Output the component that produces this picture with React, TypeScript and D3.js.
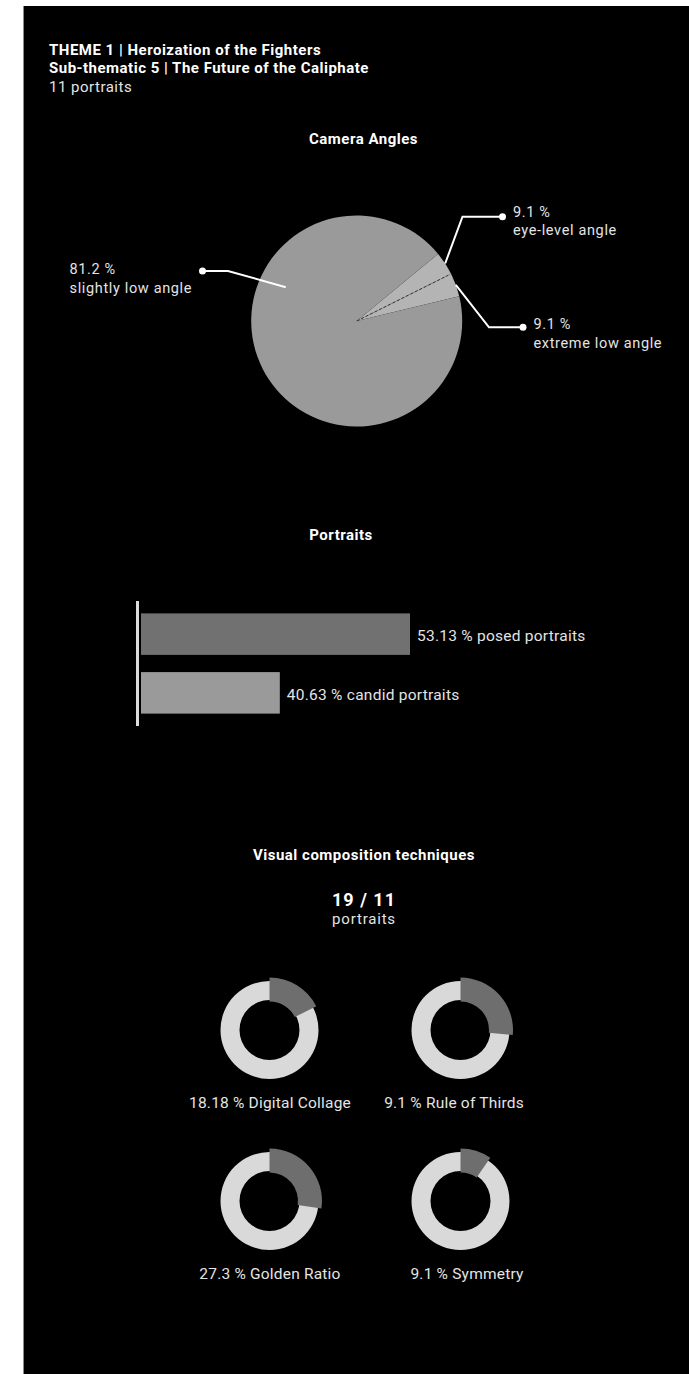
import React from "react";
import * as d3 from "d3";

const W = 689;
const H = 1374;

// ---------- Header ----------
const titleLines = [
  "THEME 1 | Heroization of the Fighters",
  "Sub-thematic 5 | The Future of the Caliphate",
];
const subtitle = "11 portraits";

// ---------- Camera angles (pie) ----------
const angleNames = ["eye-level angle", "extreme low angle", "slightly low angle"];
const angleValueLabels = ["9.1 %", "9.1 %", "81.2 %"];
// share of the disc as drawn in the picture
const angleShares = [3.6, 3.6, 92.8];

// ---------- Portraits (bars) ----------
const portraitCats = ["posed portraits", "candid portraits"];
const portraitValues = [53.13, 40.63];

// ---------- Visual composition techniques ----------
const techTotal = "19 / 11";
const techNames = ["Digital Collage", "Rule of Thirds", "Golden Ratio", "Symmetry"];
const techValueLabels = ["18.18 %", "9.1 %", "27.3 %", "9.1 %"];
// share of the ring as drawn in the picture
const techShares = [17.5, 26.5, 27.3, 9.6];

const FONT = "Roboto, 'DejaVu Sans', sans-serif";
const TXT = "#e4e4e4";

export default function App() {
  const deg = Math.PI / 180;

  // pie
  const pieCx = 356.7;
  const pieCy = 321;
  const pieR = 105.5;
  const pieGen = d3
    .pie<number>()
    .sort(null)
    .value((d) => d)
    .startAngle(50.5 * deg)
    .endAngle(50.5 * deg + 2 * Math.PI);
  const slices = pieGen(angleShares);
  const arcGen = d3.arc<d3.PieArcDatum<number>>().innerRadius(0).outerRadius(pieR);
  const pieColors = ["#b4b4b4", "#b4b4b4", "#9a9a9a"];
  const polar = (a: number, r: number): [number, number] => [
    pieCx + r * Math.sin(a),
    pieCy - r * Math.cos(a),
  ];
  const mid = (s: d3.PieArcDatum<number>) => (s.startAngle + s.endAngle) / 2;

  // leader lines
  const eyeStart = polar(mid(slices[0]), pieR);
  const eyeElbow: [number, number] = [462.5, 216.7];
  const eyeDot: [number, number] = [502.5, 216.7];
  const extStart = polar(mid(slices[1]), pieR);
  const extElbow: [number, number] = [489, 327.3];
  const extDot: [number, number] = [523, 327.3];
  const lowStart = polar(295.5 * deg, pieR * 0.745);
  const lowElbow: [number, number] = [228, 271];
  const lowDot: [number, number] = [202.5, 271];
  const line = d3.line();
  const dashEnd = polar(slices[0].endAngle, pieR * 0.97);

  // bars
  const yBand = d3
    .scaleBand<string>()
    .domain(portraitCats)
    .range([601, 726])
    .paddingInner(0.293)
    .paddingOuter(0.211);
  const xBar = d3.scaleLinear().domain([27.3, 53.13]).range([141, 410]);
  const barColors = ["#717171", "#9a9a9a"];

  // donuts
  const colX = d3.scalePoint<number>().domain([0, 1]).range([269.5, 460.5]);
  const rowY = d3.scalePoint<number>().domain([0, 1]).range([1030, 1201]);
  const ringArc = d3.arc<any>().innerRadius(30).outerRadius(49);
  const segArc = d3.arc<any>().innerRadius(28.5).outerRadius(52.5);
  const labelX = [270, 454, 270, 467];

  const head = { fill: "#ffffff", fontWeight: 700, fontSize: 15, letterSpacing: 0.5 } as const;

  return (
    <svg
      width={W}
      height={H}
      style={{ position: "absolute", left: 0, top: 0, display: "block" }}
      fontFamily={FONT}
    >
      <rect x={0} y={0} width={W} height={H} fill="#ffffff" />
      <rect x={24} y={6} width={W - 24} height={H - 6} fill="#000000" />
      <line x1={23.5} x2={23.5} y1={6} y2={H} stroke="#8a8a8a" strokeWidth={1} />

      {/* Header */}
      <text x={49} y={54.5} {...head}>
        {titleLines[0]}
      </text>
      <text x={49} y={73} {...head}>
        {titleLines[1]}
      </text>
      <text x={49} y={91.5} fill={TXT} fontSize={15} letterSpacing={0.5}>
        {subtitle}
      </text>

      {/* Camera Angles */}
      <text x={363.5} y={144} {...head} textAnchor="middle">
        Camera Angles
      </text>
      <g>
        {slices.map((s, i) => (
          <path
            key={i}
            d={arcGen(s) || ""}
            transform={`translate(${pieCx},${pieCy})`}
            fill={pieColors[i]}
          />
        ))}
        <line
          x1={pieCx}
          y1={pieCy}
          x2={dashEnd[0]}
          y2={dashEnd[1]}
          stroke="#333333"
          strokeWidth={1}
          strokeDasharray="3,2"
        />
      </g>
      <g fill="none" stroke="#ffffff" strokeWidth={2}>
        <path d={line([eyeStart, eyeElbow, eyeDot]) || ""} />
        <path d={line([extStart, extElbow, extDot]) || ""} />
        <path d={line([lowStart, lowElbow, lowDot]) || ""} />
      </g>
      <g fill="#ffffff">
        <circle cx={eyeDot[0]} cy={eyeDot[1]} r={3.5} />
        <circle cx={extDot[0]} cy={extDot[1]} r={3.5} />
        <circle cx={lowDot[0]} cy={lowDot[1]} r={3.5} />
      </g>
      <g fill={TXT} fontSize={14.5} letterSpacing={0.65}>
        <text x={513} y={216.5}>{angleValueLabels[0]}</text>
        <text x={513} y={235}>{angleNames[0]}</text>
        <text x={533.5} y={329}>{angleValueLabels[1]}</text>
        <text x={533.5} y={347.5}>{angleNames[1]}</text>
        <text x={69.5} y={274}>{angleValueLabels[2]}</text>
        <text x={69.5} y={292.5}>{angleNames[2]}</text>
      </g>

      {/* Portraits */}
      <text x={341} y={540} {...head} textAnchor="middle">
        Portraits
      </text>
      {portraitCats.map((c, i) => (
        <g key={c}>
          <rect
            x={xBar.range()[0]}
            y={yBand(c)}
            width={xBar(portraitValues[i]) - xBar.range()[0]}
            height={yBand.bandwidth()}
            fill={barColors[i]}
          />
          <text
            x={xBar(portraitValues[i]) + 7}
            y={(yBand(c) || 0) + yBand.bandwidth() / 2 + 7}
            fill={TXT}
            fontSize={15.5}
            letterSpacing={0.25}
          >
            {`${portraitValues[i].toFixed(2)} % ${c}`}
          </text>
        </g>
      ))}
      <rect x={136} y={601} width={3} height={125} fill="#dcdcdc" />

      {/* Visual composition techniques */}
      <text x={364} y={859.5} {...head} textAnchor="middle">
        Visual composition techniques
      </text>
      <text
        x={364}
        y={905.5}
        fill="#ffffff"
        fontWeight={700}
        fontSize={18}
        letterSpacing={1}
        textAnchor="middle"
      >
        {techTotal}
      </text>
      <text x={364} y={923.5} fill={TXT} fontSize={15} letterSpacing={0.8} textAnchor="middle">
        portraits
      </text>
      {techNames.map((n, i) => {
        const cx = colX(i % 2) || 0;
        const cy = rowY(Math.floor(i / 2)) || 0;
        return (
          <g key={n}>
            <g transform={`translate(${cx},${cy})`}>
              <path
                d={ringArc({ startAngle: 0, endAngle: 2 * Math.PI }) || ""}
                fill="#d9d9d9"
              />
              <path
                d={
                  segArc({
                    startAngle: 0,
                    endAngle: (techShares[i] / 100) * 2 * Math.PI,
                  }) || ""
                }
                fill="#6e6e6e"
              />
            </g>
            <text
              x={labelX[i]}
              y={cy + 77.5}
              fill={TXT}
              fontSize={15.5}
              letterSpacing={0.2}
              textAnchor="middle"
            >
              {`${techValueLabels[i]} ${n}`}
            </text>
          </g>
        );
      })}
    </svg>
  );
}
